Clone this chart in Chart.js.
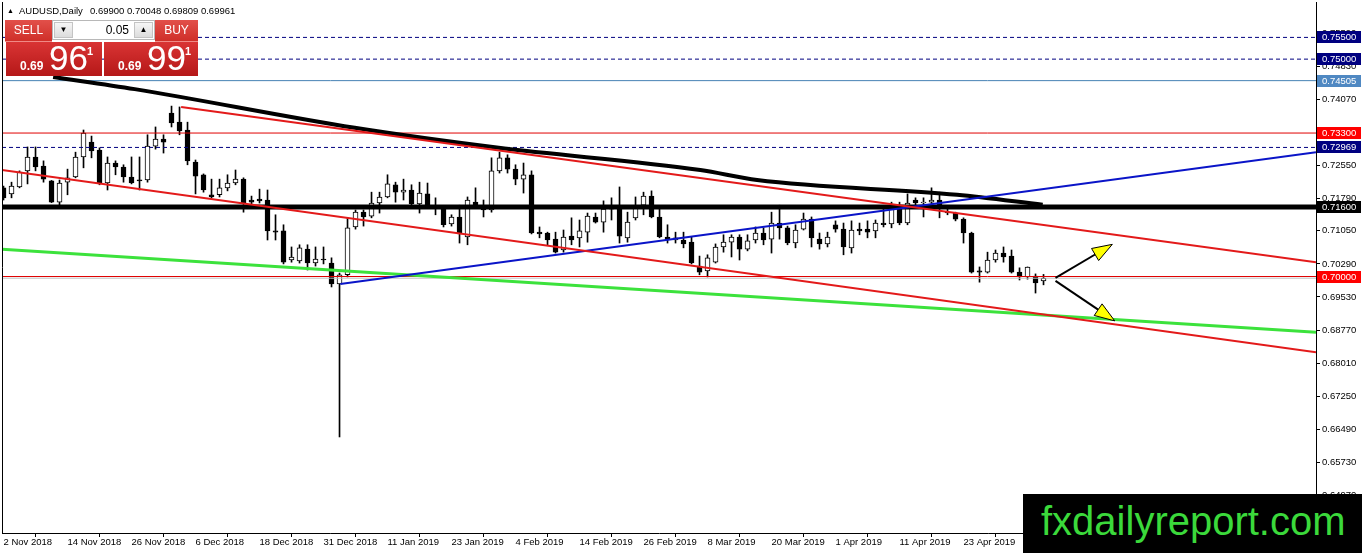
<!DOCTYPE html>
<html>
<head>
<meta charset="utf-8">
<script src="https://cdn.jsdelivr.net/npm/chart.js@4.4.1/dist/chart.umd.min.js"></script>
<style>
  html, body { margin: 0; padding: 0; background: #fff; overflow: hidden; }
  #wrap { position: relative; width: 1362px; height: 553px; font-family: "Liberation Sans", Arial, sans-serif; }
  canvas { position: absolute; left: 0; top: 0; }
  .abs { position: absolute; }
  .hdr { top: 5px; font-size: 9.5px; color: #000; white-space: pre; }
  .lab { background: linear-gradient(#e2504a, #cf2f29); color: #fff; font-size: 12px; text-align: center; line-height: 21px; border-bottom: 1px solid #f08a86; }
  .lot { background: #fff; border: 1px solid #b8b8b8; box-sizing: border-box; }
  .btn { position: absolute; top: 1px; width: 19px; height: 16px; background: linear-gradient(#f6f6f6, #dcdcdc); border: 1px solid #c4c4c4; box-sizing: border-box; font-size: 8px; text-align: center; line-height: 14px; color: #000; }
  .val { position: absolute; right: 25px; top: 2px; font-size: 12px; color: #000; }
  .px { background: linear-gradient(#d93434, #b51818); color: #fff; overflow: hidden; }
  .px span { position: absolute; line-height: 1; white-space: pre; }
  .px .s { font-size: 12px; font-weight: bold; top: 18px; }
  .px .b { font-size: 35px; top: -2px; }
  .px .u { font-size: 11px; font-weight: bold; top: 4px; }
  #wm { left: 1023px; top: 494px; width: 339px; height: 59px; background: #000; }
  #wm span { position: absolute; left: 18px; top: 7px; font-size: 40px; line-height: 40px; color: #3bd93b; white-space: pre; }
</style>
</head>
<body>
<div id="wrap">
  <canvas id="chart" width="1362" height="553"></canvas>
  <div class="abs hdr" style="left:7px;font-size:7px;top:7px;">▲</div>
  <div class="abs hdr" style="left:19px;">AUDUSD,Daily</div>
  <div class="abs hdr" style="left:90px;">0.69900 0.70048 0.69809 0.69961</div>

  <div class="abs lab" style="left:5px;top:20px;width:47px;height:21px;">SELL</div>
  <div class="abs lot" style="left:52px;top:20px;width:103px;height:20px;">
    <div class="btn" style="left:1px;">▼</div>
    <div class="val">0.05</div>
    <div class="btn" style="right:1px;">▲</div>
  </div>
  <div class="abs lab" style="left:155px;top:20px;width:43px;height:21px;">BUY</div>
  <div class="abs px" style="left:6px;top:42px;width:96px;height:34px;">
    <span class="s" style="left:14px;">0.69</span><span class="b" style="left:43px;">96</span><span class="u" style="left:81px;">1</span>
  </div>
  <div class="abs px" style="left:104px;top:42px;width:94px;height:34px;">
    <span class="s" style="left:14px;">0.69</span><span class="b" style="left:43px;">99</span><span class="u" style="left:81px;">1</span>
  </div>

  <div id="wm" class="abs"><span>fxdailyreport.com</span></div>
</div>

<script>
// date labels, one every 8 bars
const dates = ["2 Nov 2018", "14 Nov 2018", "26 Nov 2018", "6 Dec 2018", "18 Dec 2018", "31 Dec 2018",
  "11 Jan 2019", "23 Jan 2019", "4 Feb 2019", "14 Feb 2019", "26 Feb 2019", "8 Mar 2019",
  "20 Mar 2019", "1 Apr 2019", "11 Apr 2019", "23 Apr 2019"];

// daily OHLC
const open = [0.7204,0.7190,0.7206,0.7243,0.7275,0.7254,0.7220,0.7171,0.7217,0.7229,
  0.7275,0.7309,0.7291,0.7215,0.7261,0.7252,0.7229,0.7222,0.7222,0.7300,
  0.7316,0.7376,0.7355,0.7337,0.7263,0.7234,0.7188,0.7188,0.7204,0.7215,
  0.7224,0.7176,0.7178,0.7176,0.7105,0.7105,0.7038,0.7036,0.7063,0.7031,
  0.7040,0.7031,0.6983,0.7004,0.7114,0.7148,0.7139,0.7169,0.7183,0.7211,
  0.7194,0.7199,0.7167,0.7190,0.7164,0.7158,0.7121,0.7137,0.7091,0.7171,
  0.7162,0.7153,0.7243,0.7273,0.7247,0.7224,0.7234,0.7102,0.7100,0.7086,
  0.7061,0.7093,0.7089,0.7102,0.7137,0.7125,0.7155,0.7158,0.7089,0.7135,
  0.7164,0.7185,0.7137,0.7091,0.7084,0.7084,0.7079,0.7024,0.7013,0.7033,
  0.7068,0.7079,0.7091,0.7063,0.7084,0.7100,0.7086,0.7123,0.7112,0.7077,
  0.7109,0.7132,0.7086,0.7075,0.7119,0.7109,0.7066,0.7109,0.7109,0.7105,
  0.7123,0.7121,0.7164,0.7123,0.7176,0.7169,0.7171,0.7176,0.7148,0.7146,
  0.7132,0.7100,0.7013,0.7010,0.7038,0.7054,0.7047,0.7010,0.6999,0.7001,
  0.6990];
const high = [0.7208,0.7217,0.7243,0.7298,0.7298,0.7266,0.7221,0.7222,0.7247,0.7286,
  0.7337,0.7323,0.7296,0.7275,0.7266,0.7257,0.7275,0.7275,0.7326,0.7344,
  0.7326,0.7392,0.7390,0.7355,0.7268,0.7236,0.7224,0.7224,0.7234,0.7245,
  0.7227,0.7185,0.7201,0.7199,0.7142,0.7119,0.7068,0.7073,0.7073,0.7068,
  0.7068,0.7043,0.7008,0.7135,0.7153,0.7153,0.7194,0.7194,0.7234,0.7217,
  0.7224,0.7211,0.7217,0.7215,0.7181,0.7160,0.7142,0.7164,0.7183,0.7204,
  0.7176,0.7273,0.7286,0.7280,0.7257,0.7261,0.7243,0.7114,0.7102,0.7102,
  0.7107,0.7135,0.7130,0.7146,0.7146,0.7174,0.7181,0.7206,0.7148,0.7183,
  0.7194,0.7197,0.7162,0.7119,0.7102,0.7102,0.7091,0.7047,0.7050,0.7075,
  0.7096,0.7096,0.7096,0.7096,0.7114,0.7112,0.7148,0.7164,0.7116,0.7119,
  0.7146,0.7137,0.7100,0.7102,0.7128,0.7123,0.7128,0.7123,0.7128,0.7130,
  0.7155,0.7171,0.7171,0.7190,0.7181,0.7181,0.7204,0.7194,0.7158,0.7148,
  0.7135,0.7102,0.7022,0.7056,0.7061,0.7068,0.7061,0.7020,0.7022,0.7006,
  0.70048];
const low = [0.7176,0.7181,0.7204,0.7213,0.7243,0.7217,0.7170,0.7164,0.7188,0.7227,
  0.7250,0.7273,0.7211,0.7199,0.7234,0.7217,0.7213,0.7199,0.7217,0.7293,
  0.7284,0.7344,0.7326,0.7257,0.7190,0.7194,0.7181,0.7183,0.7197,0.7211,
  0.7148,0.7164,0.7169,0.7084,0.7084,0.7029,0.7033,0.7031,0.7015,0.7024,
  0.7029,0.6976,0.6631,0.6999,0.7109,0.7116,0.7135,0.7146,0.7181,0.7171,
  0.7176,0.7164,0.7146,0.7158,0.7142,0.7114,0.7116,0.7077,0.7073,0.7158,
  0.7137,0.7148,0.7238,0.7238,0.7211,0.7192,0.7098,0.7089,0.7073,0.7054,
  0.7056,0.7073,0.7068,0.7079,0.7123,0.7102,0.7130,0.7077,0.7079,0.7130,
  0.7142,0.7135,0.7089,0.7077,0.7077,0.7066,0.7029,0.7004,0.6999,0.7031,
  0.7056,0.7045,0.7038,0.7059,0.7077,0.7073,0.7054,0.7086,0.7073,0.7066,
  0.7107,0.7068,0.7063,0.7068,0.7102,0.7050,0.7054,0.7096,0.7089,0.7089,
  0.7114,0.7112,0.7119,0.7119,0.7164,0.7137,0.7164,0.7135,0.7142,0.7128,
  0.7077,0.7008,0.6987,0.7008,0.7033,0.7033,0.7008,0.6992,0.6994,0.6962,
  0.69809];
const close = [0.7181,0.7208,0.7240,0.7275,0.7252,0.7224,0.7171,0.7215,0.7227,0.7275,
  0.7330,0.7289,0.7215,0.7261,0.7252,0.7229,0.7215,0.7220,0.7300,0.7316,
  0.7309,0.7353,0.7335,0.7266,0.7231,0.7199,0.7183,0.7204,0.7215,0.7224,
  0.7169,0.7171,0.7174,0.7105,0.7102,0.7033,0.7045,0.7066,0.7031,0.7040,
  0.7038,0.6983,0.7004,0.7112,0.7148,0.7137,0.7169,0.7183,0.7213,0.7194,
  0.7199,0.7167,0.7192,0.7162,0.7160,0.7119,0.7137,0.7098,0.7176,0.7160,
  0.7153,0.7243,0.7273,0.7247,0.7224,0.7234,0.7100,0.7098,0.7084,0.7056,
  0.7091,0.7084,0.7105,0.7139,0.7125,0.7155,0.7158,0.7093,0.7125,0.7164,
  0.7185,0.7137,0.7091,0.7084,0.7089,0.7075,0.7031,0.7010,0.7043,0.7068,
  0.7079,0.7091,0.7063,0.7082,0.7100,0.7084,0.7123,0.7112,0.7077,0.7107,
  0.7132,0.7089,0.7075,0.7091,0.7109,0.7068,0.7107,0.7105,0.7102,0.7123,
  0.7119,0.7160,0.7123,0.7169,0.7169,0.7171,0.7176,0.7160,0.7146,0.7132,
  0.7100,0.7010,0.7010,0.7038,0.7054,0.7045,0.7010,0.6999,0.7022,0.6985,
  0.69961];

// moving average (bar index, price)
const maIdx = [6.2, 16.4, 43.9, 61.9, 87.1, 94.2, 119.2, 129.9];
const maVal = [0.7459, 0.7431, 0.7342, 0.7296, 0.7245, 0.7222, 0.7188, 0.7165];

// trend lines: [startIndex, startPrice, endIndex, endPrice]
const redUpper = [22.2, 0.7390, 164.06, 0.7033];
const redLower = [-0.19, 0.7245, 164.06, 0.6826];
const greenLine = [-0.19, 0.7063, 164.06, 0.6872];
const blueLine = [42.1, 0.6983, 164.06, 0.7286];

// horizontal levels
const levelPrices = [0.75500, 0.75000, 0.74505, 0.73300, 0.72969, 0.71600, 0.70000];
const levelText = ["0.75500", "0.75000", "0.74505", "0.73300", "0.72969", "0.71600", "0.70000"];
const bidPrice = 0.69961;

// arrows: [fromIndex, fromPrice, toIndex, toPrice]
const arrowUp = [131.5, 0.6997, 138.6, 0.7074];
const arrowDown = [131.5, 0.6990, 138.9, 0.6898];

// price axis tick labels
const yTickLabels = ["0.75590", "0.74830", "0.74070", "0.73310", "0.72550", "0.71790", "0.71050",
  "0.70290", "0.69530", "0.68770", "0.68010", "0.67250", "0.66490", "0.65730", "0.64970"];

const xMin = -0.19, xMax = 164.06;
const levelStyle = [
  { color: "#000080", width: 1, dash: [4, 3], box: "#000080" },
  { color: "#000080", width: 1, dash: [4, 3], box: "#000080" },
  { color: "#4682b4", width: 1, dash: [], box: "#4f88c2" },
  { color: "#e00000", width: 1, dash: [], box: "#ff0000" },
  { color: "#000080", width: 1, dash: [4, 3], box: "#000080" },
  { color: "#000000", width: 5, dash: [], box: "#000000" },
  { color: "#e00000", width: 1, dash: [], box: "#ff0000" }
];

const seg = (a) => [{ x: a[0], y: a[1] }, { x: a[2], y: a[3] }];
const lineDs = (data, color, width, extra) => Object.assign({
  type: "line", data, borderColor: color, borderWidth: width, pointRadius: 0, fill: false, order: 1
}, extra || {});

const wickData = high.map((h, i) => ({ x: i, y: [low[i], h] }));
const bodyData = open.map((o, i) => ({ x: i, y: [Math.min(o, close[i]), Math.max(o, close[i])] }));

const datasets = [
  { type: "bar", data: wickData, backgroundColor: "#000", barThickness: 1, grouped: false, order: 6 },
  {
    type: "bar", data: bodyData, barThickness: 5, grouped: false, order: 5, minBarLength: 1,
    borderColor: "#000", borderWidth: 1, borderSkipped: false,
    backgroundColor: (ctx) => close[ctx.dataIndex] >= open[ctx.dataIndex] ? "#fff" : "#000"
  },
  lineDs([{ x: xMin, y: bidPrice }, { x: xMax, y: bidPrice }], "#c0c0c0", 1, { order: 4 })
];
levelPrices.forEach((v, k) => {
  datasets.push(lineDs([{ x: xMin, y: v }, { x: xMax, y: v }], levelStyle[k].color, levelStyle[k].width,
    { borderDash: levelStyle[k].dash, order: 3 }));
});
datasets.push(lineDs(seg(greenLine), "#3ce23c", 3, { order: 2 }));
datasets.push(lineDs(seg(redLower), "#e31a1a", 2));
datasets.push(lineDs(seg(redUpper), "#e31a1a", 2));
datasets.push(lineDs(seg(blueLine), "#0a14c8", 2));
datasets.push(lineDs(maIdx.map((x, i) => ({ x, y: maVal[i] })), "#000", 4, { cubicInterpolationMode: "monotone" }));

// price boxes, arrows and chart frame
const overlay = {
  id: "overlay",
  afterDraw(chart) {
    const { ctx, chartArea: a, scales: { x, y } } = chart;
    ctx.save();
    ctx.strokeStyle = "#000";
    ctx.lineWidth = 1;
    ctx.beginPath();
    ctx.moveTo(a.left + 0.5, a.top);
    ctx.lineTo(a.left + 0.5, a.bottom);
    ctx.stroke();

    [arrowUp, arrowDown].forEach((ar) => {
      const x0 = x.getPixelForValue(ar[0]), y0 = y.getPixelForValue(ar[1]);
      const x1 = x.getPixelForValue(ar[2]), y1 = y.getPixelForValue(ar[3]);
      const ang = Math.atan2(y1 - y0, x1 - x0);
      const len = 20, half = 7;
      const bx = x1 - len * Math.cos(ang), by = y1 - len * Math.sin(ang);
      ctx.lineWidth = 2;
      ctx.beginPath();
      ctx.moveTo(x0, y0);
      ctx.lineTo(bx, by);
      ctx.stroke();
      ctx.beginPath();
      ctx.moveTo(x1, y1);
      ctx.lineTo(bx + half * Math.sin(ang), by - half * Math.cos(ang));
      ctx.lineTo(bx - half * Math.sin(ang), by + half * Math.cos(ang));
      ctx.closePath();
      ctx.fillStyle = "#ffff00";
      ctx.fill();
      ctx.lineWidth = 1;
      ctx.stroke();
    });

    ctx.font = "9.5px 'Liberation Sans', Arial, sans-serif";
    ctx.textBaseline = "middle";
    ctx.textAlign = "left";
    levelPrices.forEach((v, k) => {
      const py = Math.round(y.getPixelForValue(v));
      ctx.fillStyle = levelStyle[k].box;
      ctx.fillRect(a.right + 1, py - 6, 44, 12);
      ctx.fillStyle = "#fff";
      ctx.fillText(levelText[k], a.right + 6, py + 0.5);
    });
    ctx.restore();
  }
};

new Chart(document.getElementById("chart"), {
  type: "bar",
  data: { datasets },
  options: {
    responsive: false,
    animation: false,
    events: [],
    layout: { padding: { top: 2, left: 2, right: 0, bottom: 0 } },
    plugins: { legend: { display: false }, tooltip: { enabled: false } },
    scales: {
      x: {
        type: "linear", min: xMin, max: xMax, offset: false,
        afterBuildTicks: (s) => { s.ticks = dates.map((d, k) => ({ value: k * 8 })); },
        afterFit: (s) => { s.height = 20; s.paddingLeft = 0; s.paddingRight = 0; },
        ticks: {
          autoSkip: false, maxRotation: 0, align: "start", padding: 0, color: "#000",
          font: { family: "'Liberation Sans', Arial, sans-serif", size: 9.5 },
          callback: (v) => dates[Math.round(v / 8)]
        },
        grid: { drawOnChartArea: false, tickLength: 4, color: "#000" },
        border: { display: true, color: "#000" }
      },
      y: {
        position: "right", min: 0.64101, max: 0.76314,
        afterBuildTicks: (s) => { s.ticks = yTickLabels.map((t) => ({ value: parseFloat(t) })); },
        afterFit: (s) => { s.width = 46; s.paddingTop = 0; s.paddingBottom = 0; },
        ticks: {
          padding: 2, color: "#000",
          font: { family: "'Liberation Sans', Arial, sans-serif", size: 9.5 },
          callback: (v) => v.toFixed(5)
        },
        grid: { drawOnChartArea: false, tickLength: 4, color: "#000" },
        border: { display: true, color: "#000" }
      }
    }
  },
  plugins: [overlay]
});
</script>
</body>
</html>
